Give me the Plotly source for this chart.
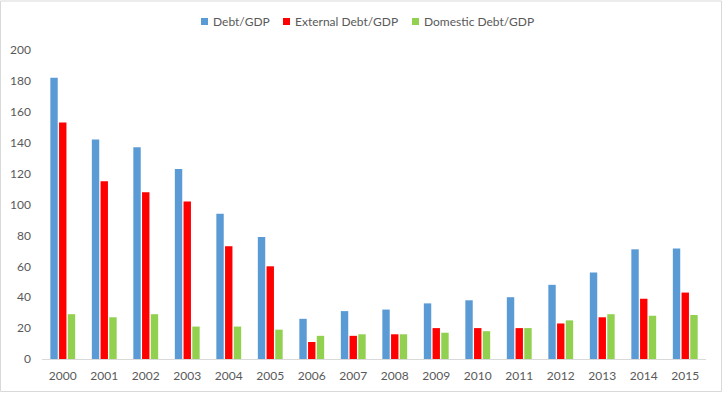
import plotly.graph_objects as go

years = ["2000", "2001", "2002", "2003", "2004", "2005", "2006", "2007",
         "2008", "2009", "2010", "2011", "2012", "2013", "2014", "2015"]
debt_gdp = [182, 142, 137, 123, 94, 79, 26, 31, 32, 36, 38, 40, 48, 56, 71, 71.5]
external_debt_gdp = [153, 115, 108, 102, 73, 60, 11, 15, 16, 20, 20, 20, 23, 27, 39, 43]
domestic_debt_gdp = [29, 27, 29, 21, 21, 19, 15, 16, 16, 17, 18, 20, 25, 29, 28, 28.5]
series_names = ["Debt/GDP", "External Debt/GDP", "Domestic Debt/GDP"]
series_colors = ["#5b9bd5", "#ff0000", "#92d050"]

W, H = 723, 393
ML, MR, MT, MB = 42, 17, 50, 34
pw, ph = W - ML - MR, H - MT - MB


def px_x(x):
    return (x - ML) / pw


def px_y(y):
    return (H - y - MB) / ph


fig = go.Figure()
for vals, name, col in zip([debt_gdp, external_debt_gdp, domestic_debt_gdp],
                           series_names, series_colors):
    fig.add_trace(go.Bar(x=years, y=vals, name=name, marker_color=col,
                         marker_line_width=0, showlegend=False))

# manual legend (small squares + text), positioned in pixels
legend_sq_x = [201, 283, 412]
legend_tx_x = [211, 293, 422]
shapes = [dict(type="rect", xref="paper", yref="paper",
               x0=px_x(0.5), x1=px_x(W - 1.5),
               y0=px_y(H - 1.5), y1=px_y(1),
               line=dict(color="#d9d9d9", width=1), fillcolor="rgba(0,0,0,0)")]
annotations = []
for sx, tx, name, col in zip(legend_sq_x, legend_tx_x, series_names, series_colors):
    shapes.append(dict(type="rect", xref="paper", yref="paper",
                       x0=px_x(sx), x1=px_x(sx + 7), y0=px_y(25), y1=px_y(18),
                       line=dict(width=0), fillcolor=col))
    annotations.append(dict(text=name, xref="paper", yref="paper",
                            x=px_x(tx), y=px_y(21.5), xanchor="left", yanchor="middle",
                            showarrow=False, font=dict(size=12, color="#595959")))

fig.update_layout(
    width=W, height=H,
    margin=dict(l=ML, r=MR, t=MT, b=MB, autoexpand=False),
    paper_bgcolor="white", plot_bgcolor="white",
    barmode="group", bargap=0.37, bargroupgap=0.15,
    font=dict(family="Lato, Open Sans, sans-serif", size=12, color="#595959"),
    showlegend=False,
    xaxis=dict(showline=True, linecolor="#d9d9d9", linewidth=1, ticks="",
               showgrid=False, ticklabelstandoff=6,
               tickfont=dict(size=12, color="#595959")),
    yaxis=dict(range=[0, 200], dtick=20, showgrid=False, zeroline=False,
               showline=False, ticks="", ticklabelstandoff=10,
               tickfont=dict(size=12, color="#595959")),
    shapes=shapes,
    annotations=annotations,
)

fig.write_html("out.html", config={"displayModeBar": False},
               post_script="document.body.style.margin='0';document.body.style.overflow='hidden';")
